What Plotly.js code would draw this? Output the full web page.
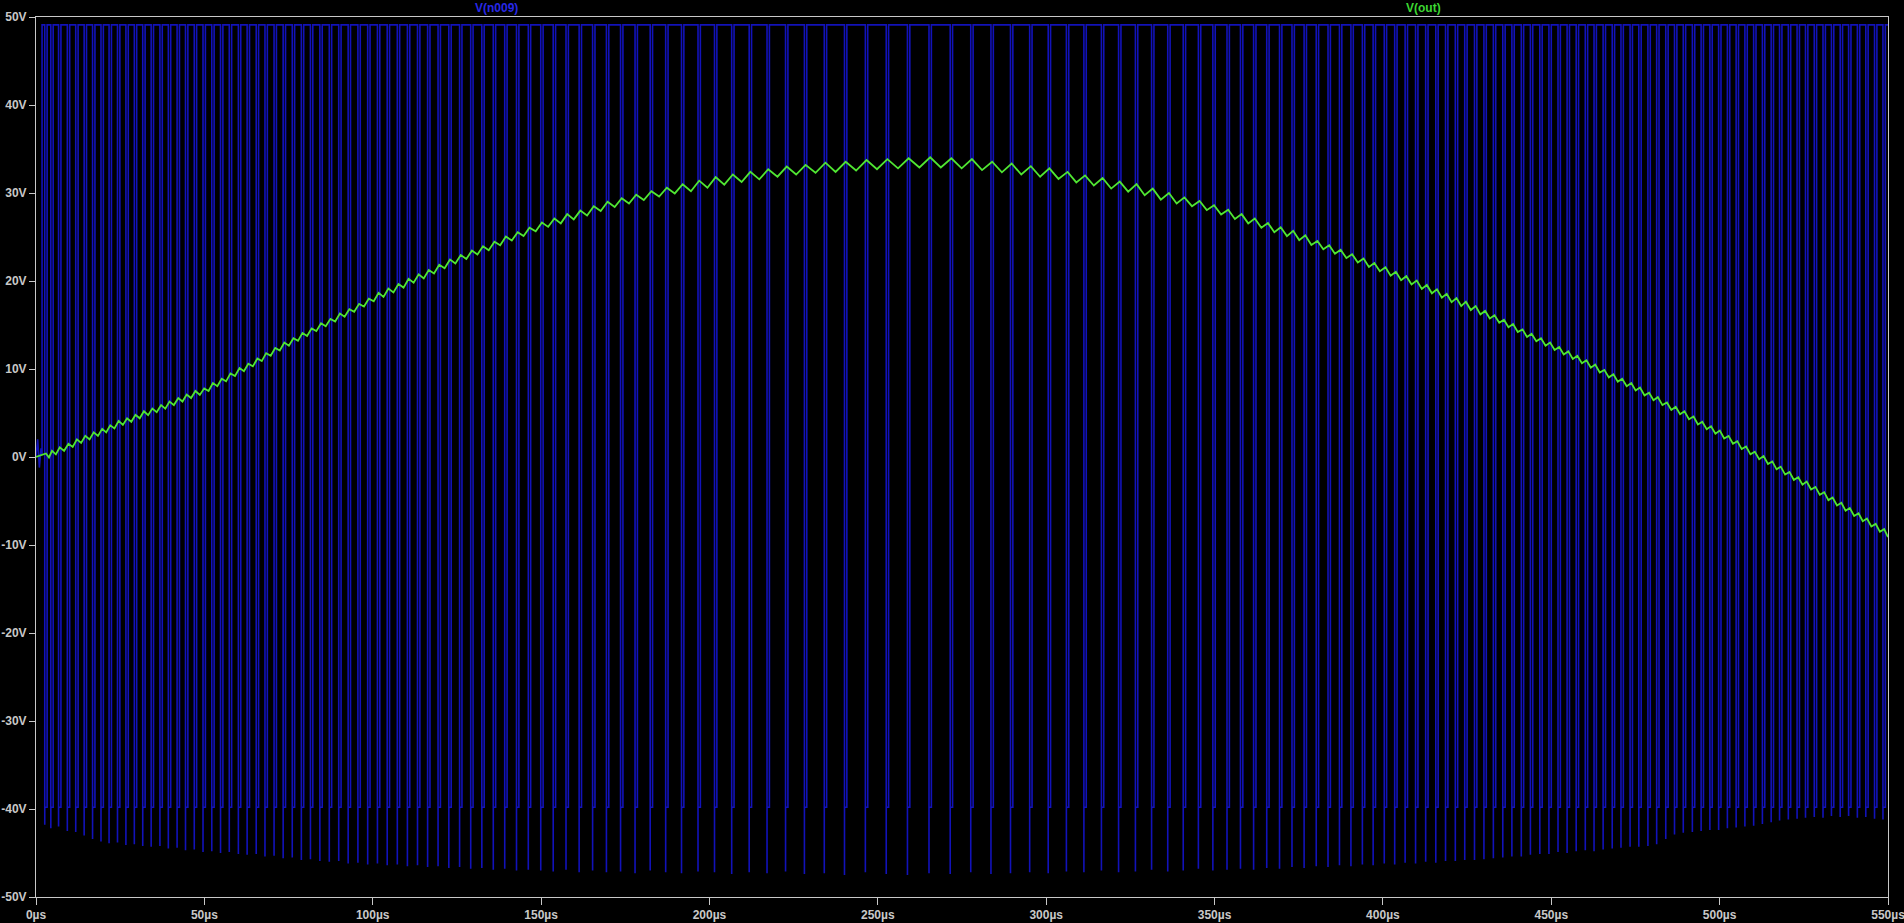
<!DOCTYPE html>
<html>
<head>
<meta charset="utf-8">
<script src="https://cdn.plot.ly/plotly-3.0.1.min.js"></script>
<style>
html,body{margin:0;padding:0;background:#000;}
#chart{width:1904px;height:923px;}
</style>
</head>
<body>
<div id="chart"></div>
<script>
// ---- tick labels ----
const xTickVals = [0, 50, 100, 150, 200, 250, 300, 350, 400, 450, 500, 550];
const xTickText = ['0µs', '50µs', '100µs', '150µs', '200µs', '250µs', '300µs', '350µs', '400µs', '450µs', '500µs', '550µs'];
const yTickVals = [-50, -40, -30, -20, -10, 0, 10, 20, 30, 40, 50];
const yTickText = ['-50V', '-40V', '-30V', '-20V', '-10V', '0V', '10V', '20V', '30V', '40V', '50V'];

// ---- V(n009): switching node ----
// start-up transient before switching begins (µs, V)
const startT = [0, 0.5, 1.0, 1.5, 1.8];
const startV = [0.0, 2.0, -1.2, 1.0, 0.3];
const highV = 49.1;     // on level (V)
const lowV = -39.8;     // off level after the edge spike (V)
const offUs = 0.7;      // off-time per pulse (µs)
// falling-edge times of each off pulse (µs)
const pulseT = [
  2.6, 4.4, 6.7, 9.3, 11.8, 14.3, 16.8, 19.3, 21.7, 24.2,
  26.7, 29.2, 31.7, 34.2, 36.8, 39.3, 41.9, 44.4, 47.0, 49.6,
  52.2, 54.8, 57.4, 60.1, 62.7, 65.4, 68.0, 70.7, 73.4, 76.1,
  78.8, 81.5, 84.3, 87.1, 89.9, 92.7, 95.6, 98.5, 101.4, 104.3,
  107.3, 110.3, 113.3, 116.3, 119.4, 122.6, 125.8, 129.1, 132.4, 135.8,
  139.2, 142.7, 146.2, 149.9, 153.6, 157.4, 161.3, 165.3, 169.4, 173.6,
  177.9, 182.4, 187.0, 191.7, 196.6, 201.5, 206.6, 211.8, 217.1, 222.6,
  228.2, 234.1, 240.1, 246.3, 252.5, 258.8, 265.2, 271.5, 277.6, 283.6,
  289.4, 295.1, 300.6, 306.0, 311.2, 316.4, 321.5, 326.5, 331.3, 336.1,
  340.7, 345.2, 349.5, 353.7, 357.7, 361.6, 365.5, 369.3, 373.0, 376.6,
  380.2, 383.7, 387.1, 390.5, 393.9, 397.1, 400.4, 403.5, 406.6, 409.7,
  412.7, 415.7, 418.6, 421.5, 424.3, 427.2, 430.0, 432.8, 435.6, 438.3,
  441.1, 443.8, 446.6, 449.3, 452.0, 454.7, 457.4, 460.1, 462.7, 465.4,
  468.1, 470.7, 473.4, 476.0, 478.7, 481.3, 484.0, 486.6, 489.2, 491.9,
  494.5, 497.1, 499.7, 502.3, 504.9, 507.5, 510.1, 512.7, 515.3, 517.8,
  520.4, 523.0, 525.5, 528.1, 530.7, 533.2, 535.8, 538.3, 540.9, 543.4,
  546.0, 548.5
];
// negative spike reached at each falling edge (V)
const spikeV = [
  -41.8, -42.2, -42.0, -42.5, -42.6, -43.0, -43.4, -43.7, -43.9, -43.8,
  -44.1, -44.0, -44.2, -44.3, -44.2, -44.5, -44.4, -44.7, -44.6, -44.9,
  -44.8, -45.0, -44.9, -45.1, -45.2, -45.1, -45.4, -45.3, -45.6, -45.5,
  -45.8, -45.7, -45.9, -46.0, -45.9, -46.2, -46.1, -46.3, -46.2, -46.4,
  -46.3, -46.5, -46.4, -46.6, -46.5, -46.7, -46.6, -46.8, -46.7, -46.9,
  -46.8, -47.0, -46.9, -47.0, -47.1, -46.9, -47.2, -47.0, -47.2, -47.1,
  -47.3, -47.0, -47.2, -47.3, -47.1, -47.2, -47.4, -47.2, -47.3, -47.1,
  -47.4, -47.3, -47.5, -47.2, -47.4, -47.5, -47.3, -47.4, -47.2, -47.4,
  -47.3, -47.2, -47.3, -47.1, -47.2, -47.0, -47.2, -47.1, -46.9, -47.1,
  -47.0, -46.8, -47.0, -46.9, -46.8, -46.9, -46.7, -46.8, -46.6, -46.7,
  -46.5, -46.6, -46.4, -46.5, -46.3, -46.4, -46.2, -46.3, -46.1, -46.2,
  -46.0, -46.1, -45.9, -45.9, -45.8, -45.8, -45.7, -45.6, -45.5, -45.4,
  -45.4, -45.2, -45.1, -45.1, -44.9, -45.0, -44.8, -44.7, -44.8, -44.6,
  -44.5, -44.4, -44.3, -44.3, -44.2, -44.0, -43.4, -42.9, -42.7, -42.6,
  -42.5, -42.4, -42.4, -42.2, -42.1, -42.0, -41.9, -41.7, -41.5, -41.3,
  -41.2, -41.1, -41.0, -40.9, -41.0, -40.8, -40.9, -40.8, -41.0, -40.9,
  -41.1, -41.2
];

// ---- V(out): filtered output, ripple maxima / minima per switching cycle ----
const outStartV = 0.0;
const outPk = [
  0.4, 0.7, 1.1, 1.5, 2.0, 2.4, 2.8, 3.2, 3.6, 4.1,
  4.4, 4.8, 5.2, 5.5, 5.9, 6.3, 6.7, 7.1, 7.5, 7.8,
  8.4, 8.9, 9.5, 10.1, 10.6, 11.2, 11.8, 12.4, 13.0, 13.5,
  14.1, 14.6, 15.2, 15.7, 16.3, 16.8, 17.4, 18.0, 18.65, 19.15,
  19.65, 20.25, 20.75, 21.25, 21.85, 22.45, 22.95, 23.45, 23.95, 24.45,
  25.05, 25.55, 26.05, 26.65, 27.1, 27.6, 28.0, 28.5, 29.0, 29.4,
  29.8, 30.2, 30.6, 31.0, 31.4, 31.8, 32.1, 32.4, 32.7, 33.0,
  33.2, 33.45, 33.55, 33.75, 33.85, 33.95, 34.05, 33.95, 33.85, 33.55,
  33.35, 33.05, 32.8, 32.4, 32.0, 31.7, 31.3, 31.0, 30.5, 30.0,
  29.5, 29.1, 28.6, 28.1, 27.6, 27.1, 26.6, 26.1, 25.7, 25.2,
  24.55, 24.05, 23.55, 23.05, 22.55, 22.05, 21.55, 21.05, 20.55, 20.05,
  19.55, 19.05, 18.55, 18.05, 17.65, 17.15, 16.6, 16.1, 15.6, 15.1,
  14.5, 14.0, 13.5, 13.0, 12.5, 12.0, 11.5, 11.0, 10.5, 9.9,
  9.4, 8.9, 8.4, 7.9, 7.3, 6.8, 6.2, 5.7, 5.2, 4.6,
  4.0, 3.5, 3.0, 2.4, 1.8, 1.2, 0.6, 0.1, -0.5, -1.1,
  -1.7, -2.3, -2.8, -3.4, -4.0, -4.6, -5.2, -5.8, -6.4, -7.0,
  -7.6, -8.2
];
const outTr = [
  -0.05, 0.3, 0.7, 1.15, 1.6, 2.0, 2.4, 2.8, 3.25, 3.65,
  4.0, 4.4, 4.75, 5.1, 5.5, 5.9, 6.3, 6.7, 7.05, 7.5,
  8.05, 8.6, 9.2, 9.75, 10.3, 10.9, 11.5, 12.1, 12.65, 13.2,
  13.75, 14.3, 14.85, 15.4, 15.95, 16.5, 17.1, 17.7, 18.2, 18.7,
  19.25, 19.8, 20.3, 20.85, 21.45, 22.0, 22.5, 23.0, 23.5, 24.05,
  24.6, 25.1, 25.65, 26.15, 26.55, 27.0, 27.45, 27.95, 28.4, 28.8,
  29.2, 29.6, 29.95, 30.2, 30.6, 30.95, 31.25, 31.55, 31.85, 32.1,
  32.3, 32.4, 32.55, 32.7, 32.8, 32.9, 32.9, 32.8, 32.6, 32.35,
  32.1, 31.85, 31.6, 31.2, 30.85, 30.5, 30.15, 29.75, 29.25, 28.8,
  28.5, 28.05, 27.55, 27.05, 26.55, 26.05, 25.55, 25.1, 24.65, 24.1,
  23.6, 23.1, 22.6, 22.1, 21.6, 21.1, 20.6, 20.1, 19.6, 19.1,
  18.6, 18.1, 17.6, 17.15, 16.7, 16.2, 15.75, 15.25, 14.75, 14.2,
  13.65, 13.15, 12.65, 12.15, 11.65, 11.15, 10.65, 10.15, 9.6, 9.05,
  8.55, 8.05, 7.55, 7.0, 6.45, 5.9, 5.35, 4.85, 4.3, 3.7,
  3.15, 2.65, 2.1, 1.5, 0.9, 0.3, -0.25, -0.8, -1.4, -2.0,
  -2.6, -3.15, -3.7, -4.3, -4.9, -5.5, -6.1, -6.7, -7.3, -7.9,
  -8.5, -9.1
];

const tEnd = 550;

// ---- build trace paths from the data ----
const bx = [], by = [];
for (let i = 0; i < startT.length; i++) { bx.push(startT[i]); by.push(startV[i]); }
bx.push(startT[startT.length - 1]); by.push(highV);
const n = Math.min(pulseT.length, spikeV.length);
for (let i = 0; i < n; i++) {
  const f = pulseT[i];
  const r = Math.min(f + offUs, tEnd);
  bx.push(f, f, f, r, r);
  by.push(highV, spikeV[i], lowV, lowV, highV);
}
bx.push(tEnd); by.push(highV);

const gx = [0], gy = [outStartV];
const m = Math.min(pulseT.length, outPk.length, outTr.length);
for (let i = 0; i < m; i++) {
  const f = pulseT[i];
  gx.push(f + offUs / 2); gy.push(outPk[i]);
  const tt = (i < m - 1) ? (f + offUs + pulseT[i + 1]) / 2 : Math.min(tEnd, f + offUs + 1.0);
  gx.push(tt); gy.push(outTr[i]);
}

const axisColor = '#c8c8c8';
const tickFont = {family: 'Liberation Sans, Arial, sans-serif', size: 12, color: axisColor, weight: 'bold'};

const traces = [
  {x: bx, y: by, type: 'scatter', mode: 'lines', name: 'V(n009)',
   line: {color: 'rgb(18,18,185)', width: 1.6, simplify: false}, hoverinfo: 'skip'},
  {x: gx, y: gy, type: 'scatter', mode: 'lines', name: 'V(out)',
   line: {color: 'rgb(80,230,50)', width: 1.8, simplify: false}, hoverinfo: 'skip'}
];

const layout = {
  width: 1904, height: 923,
  paper_bgcolor: '#000000', plot_bgcolor: '#000000',
  margin: {l: 36, r: 16, t: 17, b: 26, pad: 0},
  showlegend: false,
  xaxis: {
    range: [0, 550], tickmode: 'array', tickvals: xTickVals, ticktext: xTickText,
    ticks: 'outside', ticklen: 7, tickwidth: 1, tickcolor: axisColor,
    showline: true, linecolor: axisColor, linewidth: 1, mirror: true,
    showgrid: false, zeroline: false, tickfont: tickFont, automargin: false, fixedrange: true,
    ticklabeloverflow: 'allow'
  },
  yaxis: {
    range: [-50, 50], tickmode: 'array', tickvals: yTickVals, ticktext: yTickText,
    ticks: 'outside', ticklen: 6, tickwidth: 1, tickcolor: axisColor,
    showline: true, linecolor: axisColor, linewidth: 1, mirror: true,
    showgrid: false, zeroline: false, tickfont: tickFont, automargin: false, fixedrange: true,
    ticklabeloverflow: 'allow'
  },
  annotations: [
    {text: 'V(n009)', xref: 'x', yref: 'paper', x: 136.9, y: 1, yanchor: 'bottom', yshift: 0,
     showarrow: false, font: {family: 'Liberation Sans, Arial, sans-serif', size: 12, color: 'rgb(40,40,230)', weight: 'bold'}},
    {text: 'V(out)', xref: 'x', yref: 'paper', x: 412.2, y: 1, yanchor: 'bottom', yshift: 0,
     showarrow: false, font: {family: 'Liberation Sans, Arial, sans-serif', size: 12, color: 'rgb(60,215,50)', weight: 'bold'}}
  ]
};

Plotly.newPlot('chart', traces, layout, {staticPlot: true, displayModeBar: false});
</script>
</body>
</html>
